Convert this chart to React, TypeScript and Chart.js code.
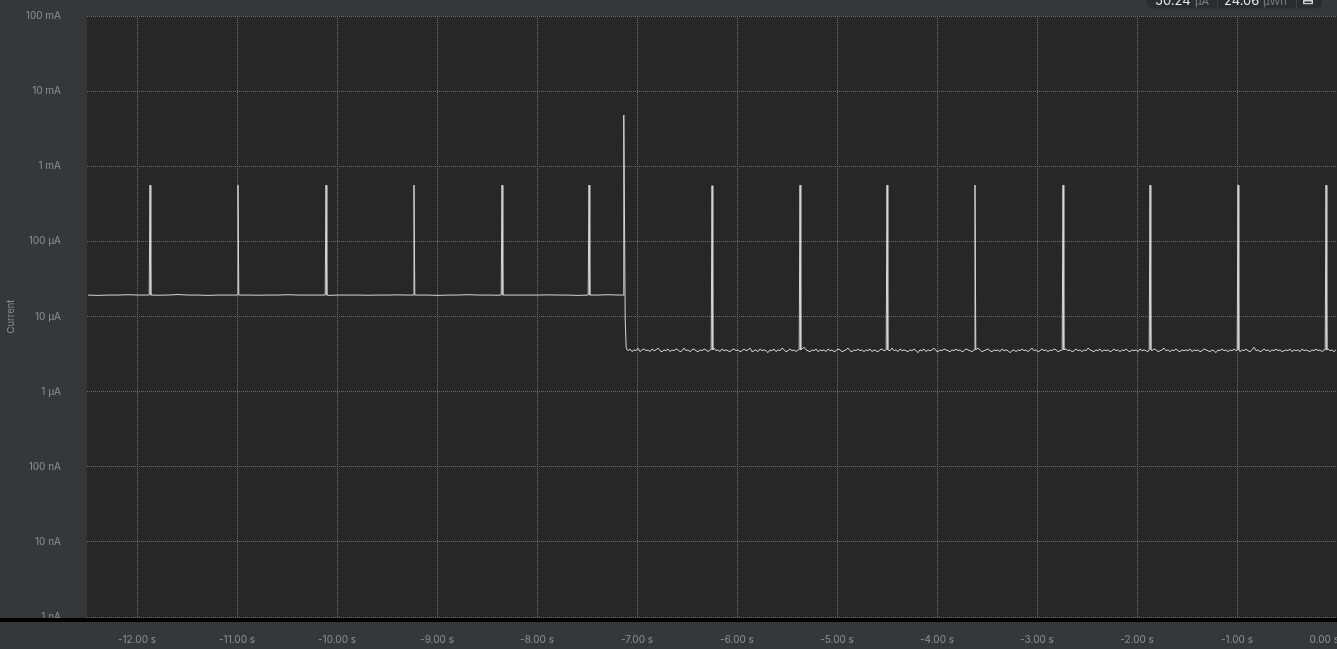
import React, { useEffect, useRef } from "react";
import { Chart, registerables } from "chart.js";

Chart.register(...registerables);

// ---- axis ticks ----
const timeTicks = [-12, -11, -10, -9, -8, -7, -6, -5, -4, -3, -2, -1, 0];
const currentTicks = [0.001, 0.01, 0.1, 1, 10, 100, 1000, 10000, 100000]; // µA
const currentLabels = ["1 nA", "10 nA", "100 nA", "1 µA", "10 µA", "100 µA", "1 mA", "10 mA", "100 mA"];

// ---- data (current in µA, time in s) ----
const upperStart = -12.49;
const upperStep = 0.1;
const upperValues = [
  19.3, 19.1, 19.3, 19.3, 19.5, 19.3, 19.3, 19.2, 19.3, 19.6,
  19.3, 19.3, 19.1, 19.3, 19.3, 19.4, 19.3, 19.2, 19.3, 19.3,
  19.5, 19.3, 19.3, 19.3, 19.1, 19.3, 19.3, 19.3, 19.2, 19.3,
  19.3, 19.4, 19.3, 19.3, 19.3, 19.1, 19.3, 19.3, 19.5, 19.3,
  19.3, 19.2, 19.3, 19.3, 19.3, 19.3, 19.4, 19.3, 19.3, 19.1,
  19.3, 19.3, 19.5, 19.3,
];

const lowerStart = -7.09;
const lowerStep = 0.02;
const lowerValues = [
  3.5, 3.7, 3.4, 3.6, 3.5, 3.8, 3.4, 3.6, 3.7, 3.5, 3.6, 3.4, 3.7, 3.5, 3.6, 3.8, 3.5, 3.4, 3.6, 3.5,
  3.7, 3.4, 3.6, 3.5, 3.7, 3.6, 3.4, 3.5, 3.8, 3.5, 3.6, 3.4, 3.6, 3.7, 3.5, 3.4, 3.6, 3.5, 3.7, 3.6,
  3.4, 3.6, 3.5, 3.8, 3.5, 3.6, 3.4, 3.7, 3.5, 3.6, 3.5, 3.4, 3.6, 3.7, 3.5, 3.6, 3.4, 3.5, 3.7, 3.5,
  3.6, 3.8, 3.4, 3.5, 3.6, 3.4, 3.7, 3.5, 3.6, 3.5, 3.3, 3.6, 3.5, 3.7, 3.4, 3.6, 3.5, 3.8, 3.6, 3.4,
  3.5, 3.7, 3.5, 3.6, 3.4, 3.6, 3.5, 3.7, 3.9, 3.6, 3.5, 3.4, 3.6, 3.5, 3.7, 3.4, 3.6, 3.5, 3.6, 3.4,
  3.7, 3.5, 3.6, 3.4, 3.5, 3.7, 3.6, 3.4, 3.5, 3.6, 3.8, 3.5, 3.4, 3.6, 3.5, 3.7, 3.5, 3.6, 3.4, 3.6,
  3.5, 3.7, 3.4, 3.6, 3.5, 3.4, 3.6, 3.7, 3.5, 3.6, 3.4, 3.5, 3.8, 3.5, 3.6, 3.4, 3.7, 3.5, 3.6, 3.5,
  3.4, 3.6, 3.5, 3.7, 3.5, 3.3, 3.6, 3.5, 3.7, 3.4, 3.6, 3.5, 3.6, 3.8, 3.5, 3.4, 3.6, 3.5, 3.7, 3.6,
  3.5, 3.4, 3.6, 3.5, 3.7, 3.5, 3.6, 3.4, 3.5, 3.7, 3.6, 3.5, 3.4, 3.6, 3.5, 3.8, 3.6, 3.4, 3.5, 3.6,
  3.7, 3.5, 3.4, 3.6, 3.5, 3.6, 3.4, 3.7, 3.5, 3.6, 3.5, 3.3, 3.5, 3.6, 3.4, 3.6, 3.5, 3.7, 3.5, 3.6,
  3.4, 3.6, 3.8, 3.5, 3.6, 3.4, 3.5, 3.7, 3.5, 3.6, 3.4, 3.6, 3.5, 3.7, 3.6, 3.4, 3.5, 3.6, 3.5, 3.7,
  3.5, 3.6, 3.4, 3.5, 3.7, 3.5, 3.6, 3.4, 3.6, 3.5, 3.8, 3.6, 3.5, 3.4, 3.6, 3.5, 3.7, 3.4, 3.6, 3.5,
  3.6, 3.4, 3.5, 3.7, 3.5, 3.6, 3.4, 3.6, 3.5, 3.7, 3.5, 3.4, 3.6, 3.5, 3.6, 3.4, 3.7, 3.5, 3.6, 3.5,
  3.4, 3.6, 3.5, 3.7, 3.6, 3.4, 3.5, 3.6, 3.8, 3.5, 3.6, 3.4, 3.6, 3.5, 3.7, 3.5, 3.4, 3.6, 3.5, 3.6,
  3.5, 3.7, 3.4, 3.6, 3.5, 3.6, 3.4, 3.5, 3.7, 3.6, 3.5, 3.4, 3.6, 3.5, 3.3, 3.6, 3.5, 3.7, 3.5, 3.6,
  3.4, 3.6, 3.5, 3.7, 3.5, 3.6, 3.4, 3.6, 3.5, 3.7, 3.5, 3.4, 3.6, 3.9, 3.5, 3.6, 3.4, 3.5, 3.7, 3.5,
  3.6, 3.4, 3.6, 3.5, 3.7, 3.5, 3.6, 3.4, 3.5, 3.6, 3.5, 3.7, 3.4, 3.6, 3.5, 3.6, 3.4, 3.7, 3.5, 3.6,
  3.5, 3.4, 3.6, 3.5, 3.7, 3.5, 3.6, 3.4, 3.6, 3.5, 3.7, 3.5, 3.6, 3.4, 3.6,
];

const spikeTimes = [-11.87, -10.99, -10.11, -9.23, -8.35, -7.48, -6.25, -5.37, -4.5, -3.62, -2.74, -1.87, -0.99, -0.11];
const spikePeaks = [560, 560, 560, 560, 560, 560, 550, 560, 560, 560, 560, 560, 560, 560];
const spikeBases = [19.3, 19.3, 19.3, 19.3, 19.3, 19.3, 3.6, 3.6, 3.6, 3.6, 3.6, 3.6, 3.6, 3.6];

const wakeTimes = [-7.14, -7.132, -7.118, -7.108];
const wakeValues = [19.3, 4800, 9, 3.8];

function buildPoints() {
  const pts: { x: number; y: number }[] = [];
  upperValues.forEach((v, i) => pts.push({ x: upperStart + i * upperStep, y: v }));
  lowerValues.forEach((v, i) => pts.push({ x: lowerStart + i * lowerStep, y: v }));
  const filtered = pts.filter((p) => !spikeTimes.some((t) => Math.abs(p.x - t) < 0.012));
  spikeTimes.forEach((t, i) => {
    filtered.push({ x: t - 0.008, y: spikeBases[i] });
    filtered.push({ x: t, y: spikePeaks[i] });
    filtered.push({ x: t + 0.008, y: spikeBases[i] });
  });
  wakeTimes.forEach((t, i) => filtered.push({ x: t, y: wakeValues[i] }));
  filtered.sort((a, b) => a.x - b.x);
  return filtered;
}

const FONT = "Inter, 'Noto Sans', sans-serif";

const decorPlugin = {
  id: "decor",
  beforeDraw(chart: any) {
    const { ctx, chartArea, width, height } = chart;
    ctx.save();
    ctx.fillStyle = "#36373b";
    ctx.fillRect(0, 0, width, height);
    ctx.fillStyle = "#282728";
    ctx.fillRect(chartArea.left, chartArea.top, chartArea.right - chartArea.left, chartArea.bottom - chartArea.top + 1);
    ctx.restore();
  },
  afterDraw(chart: any) {
    const { ctx, width } = chart;
    ctx.save();
    // black separator band
    ctx.fillStyle = "#000000";
    ctx.fillRect(0, 618, width, 4);
    // x labels below band
    const xs = chart.scales.x;
    ctx.font = `10px ${FONT}`;
    ctx.fillStyle = "#8f9094";
    ctx.textAlign = "center";
    ctx.textBaseline = "middle";
    timeTicks.forEach((v) => {
      const label = v.toFixed(2) + " s";
      const w = ctx.measureText(label).width;
      let x = xs.getPixelForValue(v);
      if (x + w / 2 > width + 2) x = width + 2 - w / 2;
      ctx.fillText(label, x, 639.5);
    });
    // partially visible toolbar at the top right
    ctx.fillStyle = "#2b2c2f";
    ctx.beginPath();
    (ctx as any).roundRect(1147, -20, 175, 28.5, 5);
    ctx.fill();
    ctx.strokeStyle = "#3f4044";
    ctx.lineWidth = 1;
    ctx.beginPath();
    ctx.moveTo(1217.5, 0);
    ctx.lineTo(1217.5, 8);
    ctx.moveTo(1296.5, 0);
    ctx.lineTo(1296.5, 8);
    ctx.stroke();
    ctx.textAlign = "left";
    ctx.textBaseline = "alphabetic";
    ctx.font = `13px ${FONT}`;
    ctx.fillStyle = "#e6e6e6";
    ctx.fillText("50.24", 1155, 4.5);
    ctx.fillText("24.06", 1224, 4.5);
    ctx.font = `11px ${FONT}`;
    ctx.fillStyle = "#7d7e82";
    ctx.fillText("µA", 1195, 4.5);
    ctx.fillText("µWh", 1263, 4.5);
    ctx.fillStyle = "#d0d0d0";
    ctx.fillRect(1303, 0, 10, 1.5);
    ctx.fillRect(1303, 0, 1.5, 4);
    ctx.fillRect(1311.5, 0, 1.5, 4);
    ctx.fillRect(1303, 3, 10, 1.2);
    ctx.restore();
  },
};

export default function App() {
  const ref = useRef<HTMLCanvasElement | null>(null);
  useEffect(() => {
    if (!ref.current) return;
    const data = buildPoints();
    const chart = new Chart(ref.current, {
      type: "line",
      data: {
        datasets: [
          {
            label: "Current",
            data,
            borderColor: "#d6d6d6",
            borderWidth: 1,
            pointRadius: 0,
            tension: 0,
            fill: false,
          },
        ],
      },
      options: {
        animation: false,
        responsive: true,
        maintainAspectRatio: false,
        layout: { padding: { top: 16, bottom: 32, left: 0, right: 0 } },
        plugins: { legend: { display: false }, tooltip: { enabled: false } },
        scales: {
          x: {
            type: "linear",
            min: -12.5,
            max: 0,
            afterBuildTicks: (s: any) => {
              s.ticks = timeTicks.map((v) => ({ value: v }));
            },
            afterFit: (s: any) => {
              s.height = 0;
              s.paddingLeft = 0;
              s.paddingRight = 0;
              s.paddingTop = 0;
              s.paddingBottom = 0;
            },
            ticks: { display: false },
            grid: { color: "#6e6e70", lineWidth: 1, drawTicks: false },
            border: { display: false, dash: [1, 1] },
          },
          y: {
            type: "logarithmic",
            min: 0.001,
            max: 100000,
            afterBuildTicks: (s: any) => {
              s.ticks = currentTicks.map((v) => ({ value: v }));
            },
            afterFit: (s: any) => {
              s.width = 87;
              s.paddingTop = 0;
              s.paddingBottom = 0;
              s.paddingLeft = 0;
              s.paddingRight = 0;
            },
            ticks: {
              padding: 26,
              color: "#8f9094",
              font: { family: FONT, size: 10 },
              callback: (_v: any, i: number) => currentLabels[i],
            },
            title: {
              display: true,
              text: "Current",
              color: "#8f9094",
              font: { family: FONT, size: 9.5 },
              padding: { top: 5, bottom: 0 },
            },
            grid: { color: "#6e6e70", lineWidth: 1, drawTicks: false },
            border: { display: false, dash: [1, 1] },
          },
        },
      },
      plugins: [decorPlugin],
    });
    return () => chart.destroy();
  }, []);
  return (
    <div style={{ position: "fixed", left: 0, top: 0, width: 1337, height: 649, background: "#36373b" }}>
      <canvas ref={ref} />
    </div>
  );
}
